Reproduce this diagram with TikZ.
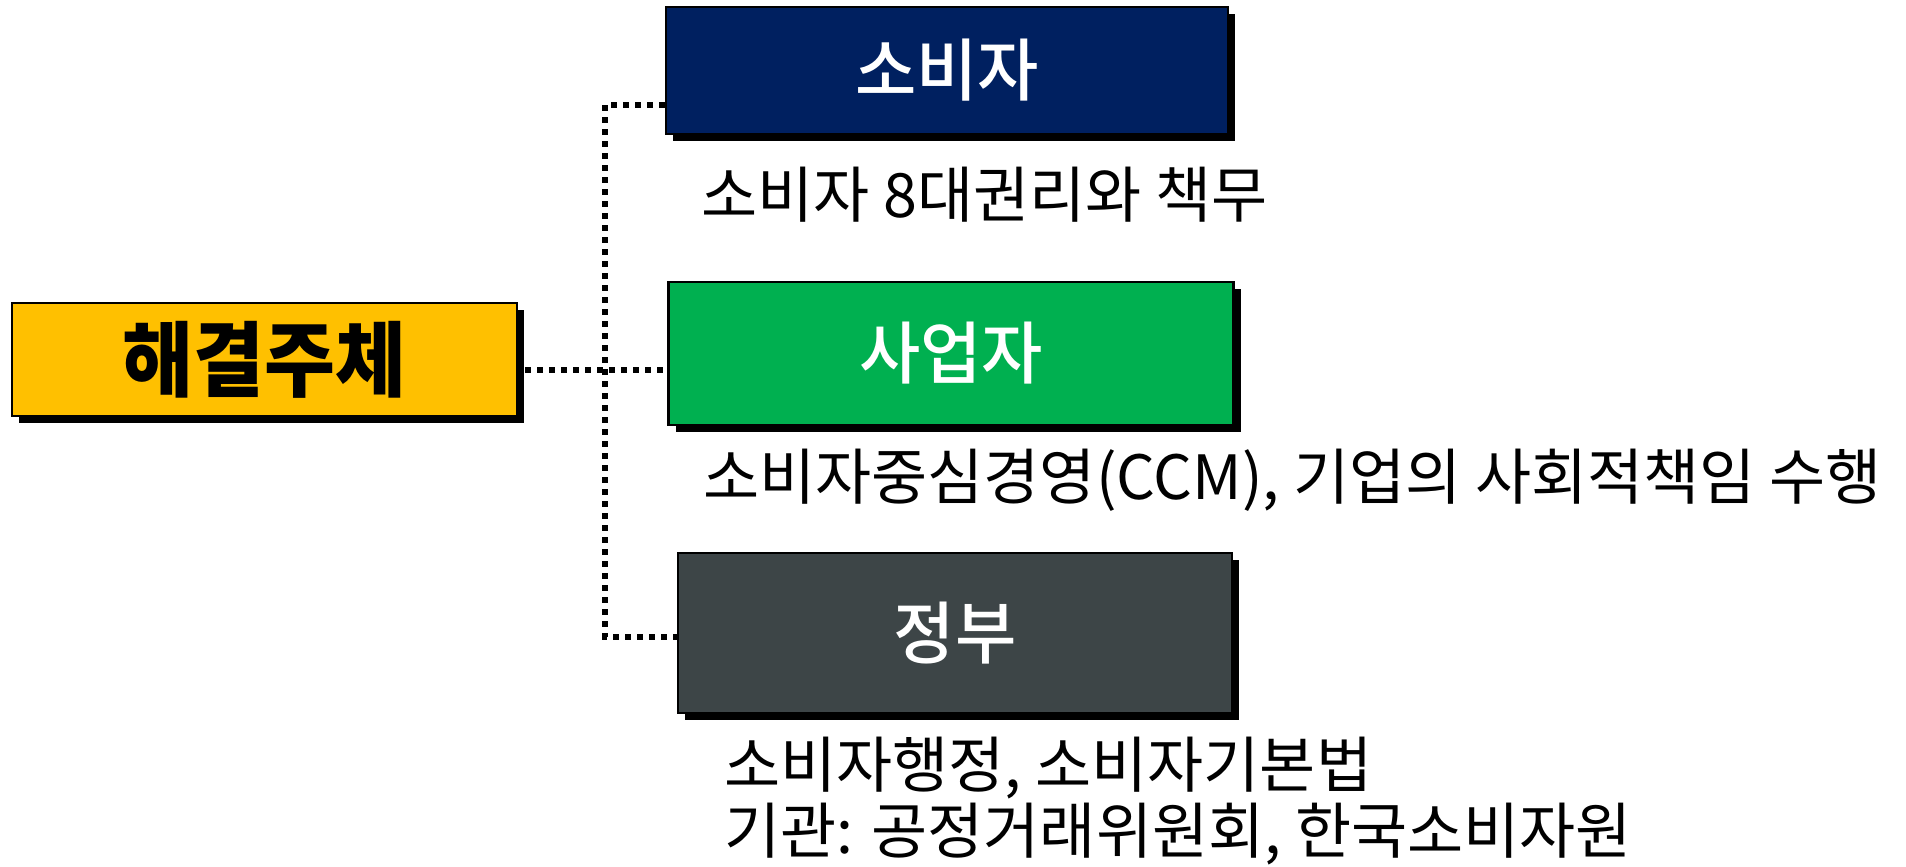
\documentclass[tikz,border=0pt]{standalone}
\usepackage{fontspec}
\setmainfont{Noto Sans CJK KR}
\newfontfamily\krtext[FakeStretch=1.0]{Noto Sans CJK KR}
\newfontfamily\krbox[FakeStretch=0.98,UprightFont={* Medium}]{Noto Sans CJK KR}
\newfontfamily\krmain[FakeStretch=0.94]{Noto Sans CJK KR}
\usetikzlibrary{shadows,calc}
\definecolor{cgold}{HTML}{FFC000}
\definecolor{cnavy}{HTML}{002060}
\definecolor{cgreen}{HTML}{00B050}
\definecolor{cgray}{HTML}{3D4547}
\tikzset{
  box/.style={draw=black, line width=2.5pt, inner sep=0pt,
    drop shadow={shadow xshift=7pt, shadow yshift=-7pt, fill=black, opacity=1}},
  boxlabel/.style={text=white, font=\krbox\fontsize{68}{74}\selectfont},
  desc/.style={anchor=west, inner sep=0pt, font=\krtext\fontsize{61}{70}\selectfont},
  conn/.style={line width=6pt, dash pattern=on 5.5pt off 6.5pt, line cap=butt}
}
\begin{document}
\begin{tikzpicture}[x=1pt,y=-1pt]
\useasboundingbox (0,0) rectangle (1906,867);
\node[box, fill=cgold, minimum width=505pt, minimum height=113pt,
  font=\krmain\bfseries\fontsize{82}{90}\selectfont] (main) at (264.5,359.5) {해결주체};
\node[box, fill=cnavy, minimum width=562pt, minimum height=127pt, boxlabel] (so) at (947,70.5) {소비자};
\node[box, fill=cgreen, minimum width=565pt, minimum height=143pt, boxlabel] (sa) at (951,353.5) {사업자};
\node[box, fill=cgray, minimum width=554pt, minimum height=160pt, boxlabel] (gov) at (955,633) {정부};
\node[desc] (d1) at (701,195) {소비자 8대권리와 책무};
\node[desc] (d2) at (703,480) {소비자중심경영(CCM), 기업의 사회적책임 수행};
\node[desc] (d3) at (724,768) {소비자행정, 소비자기본법};
\node[desc] (d4) at (724,834) {기관: 공정거래위원회, 한국소비자원};
\coordinate (jt) at (605,105);
\coordinate (jm) at (605,370);
\coordinate (jb) at (605,637);
\draw[conn] (so.west |- jt) -- (jt) -- (jb) -- (gov.west |- jb);
\draw[conn] ([xshift=7pt]main.east |- jm) -- (sa.west |- jm);
\end{tikzpicture}
\end{document}
